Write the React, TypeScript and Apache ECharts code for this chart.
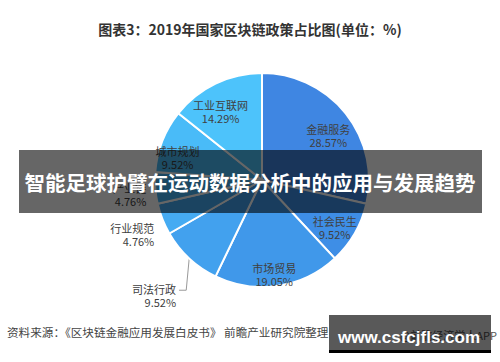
import React, { useEffect, useRef } from "react";
import * as echarts from "echarts";

const categories = ["金融服务", "社会民生", "市场贸易", "司法行政", "行业规范", "产业链", "城市规划", "工业互联网"];
const values = [28.57, 9.52, 19.05, 9.52, 4.76, 4.76, 9.52, 14.29];
const colors = ["#3f86e2", "#3e8ee6", "#4098ea", "#42a1ee", "#45abf2", "#47b3f5", "#49bbf8", "#4dc3fb"];
const outsideLabels = ["司法行政", "行业规范", "产业链"];

const titleText = "图表3：2019年国家区块链政策占比图(单位：%)";
const bannerText = "智能足球护臂在运动数据分析中的应用与发展趋势";
const sourceText = "资料来源：《区块链金融应用发展白皮书》 前瞻产业研究院整理";
const siteText = "www.csfcjfls.com";
const appText = "@前瞻经济学人APP";

const FONT = '"Noto Sans CJK SC", "Noto Sans", sans-serif';

export default function App() {
  const ref = useRef<HTMLDivElement>(null);
  useEffect(() => {
    document.body.style.margin = "0";
    const chart = echarts.init(ref.current!, null, { renderer: "svg" });
    const fmt = (p: any) => `${p.name}\n${Number(p.value).toFixed(2)}%`;
    const center = [262, 180];
    // fine label nudges (dx, dy) per category, to follow the reference placement
    const nudge: Record<string, [number, number]> = {
      金融服务: [-3, 11],
      社会民生: [-4, 3],
      市场贸易: [-1, 7],
      司法行政: [6, 28],
      行业规范: [14, 11],
      产业链: [14, 6],
      城市规划: [-2, 10],
      工业互联网: [-3, 11],
    };
    const labelLayout = (params: any) => {
      const name = categories[params.dataIndex];
      const n = nudge[name] || [0, 0];
      const out: any = { dx: n[0], dy: n[1] };
      if (params.seriesIndex === 0 && name === "司法行政" && params.labelLinePoints) {
        const start = params.labelLinePoints[0];
        const r = params.labelRect;
        const ly = r.y + n[1] + 8;
        const rightEdge = r.x + r.width + n[0];
        out.labelLinePoints = [
          [start[0], start[1]],
          [start[0] - 3, ly],
          [rightEdge + 3, ly],
        ];
      }
      return out;
    };
    chart.setOption({
      animation: false,
      backgroundColor: "#ffffff",
      series: [
        {
          type: "pie",
          center,
          radius: 107,
          startAngle: 90,
          clockwise: true,
          avoidLabelOverlap: false,
          labelLayout,
          itemStyle: { borderColor: "#ffffff", borderWidth: 2 },
          label: {
            position: "outside",
            formatter: fmt,
            fontSize: 11,
            lineHeight: 13,
            color: "#404040",
            fontFamily: FONT,
          },
          labelLine: { length: 12, length2: 6, lineStyle: { color: "#999999", width: 1 } },
          data: categories.map((c, i) => ({
            name: c,
            value: values[i],
            itemStyle: { color: colors[i] },
            label: { show: outsideLabels.includes(c) },
            labelLine: { show: c === "司法行政" },
          })),
        },
        {
          type: "pie",
          center,
          radius: [64, 107],
          startAngle: 90,
          clockwise: true,
          silent: true,
          labelLayout,
          itemStyle: { color: "transparent", borderWidth: 0 },
          label: {
            position: "inside",
            formatter: fmt,
            fontSize: 11,
            lineHeight: 13,
            color: "#404040",
            fontFamily: FONT,
          },
          labelLine: { show: false },
          data: categories.map((c, i) => ({
            name: c,
            value: values[i],
            label: { show: !outsideLabels.includes(c) },
          })),
        },
      ],
      graphic: [
        {
          type: "text",
          x: 250,
          y: 29,
          style: {
            text: titleText,
            font: `bold 14px ${FONT}`,
            fill: "#333333",
            textAlign: "center",
            textVerticalAlign: "middle",
          },
        },
        {
          type: "rect",
          z: 100,
          shape: { x: 19, y: 150, width: 463, height: 63 },
          style: { fill: "rgba(0,0,0,0.6)" },
        },
        {
          type: "text",
          z: 101,
          x: 250,
          y: 182,
          style: {
            text: bannerText,
            font: `bold 20.5px ${FONT}`,
            fill: "#ffffff",
            textAlign: "center",
            textVerticalAlign: "middle",
          },
        },
        {
          type: "text",
          x: 7,
          y: 332,
          style: {
            text: sourceText,
            font: `11.6px ${FONT}`,
            fill: "#444444",
            textAlign: "left",
            textVerticalAlign: "middle",
          },
        },
        {
          type: "text",
          z: 100,
          x: 497,
          y: 335,
          style: {
            text: appText,
            font: `11px ${FONT}`,
            fill: "#555555",
            textAlign: "right",
            textVerticalAlign: "middle",
          },
        },
        {
          type: "rect",
          z: 101,
          shape: { x: 329, y: 315, width: 162, height: 35 },
          style: { fill: "rgba(0,0,0,0.65)" },
        },
        {
          type: "rect",
          z: 101,
          shape: { x: 329, y: 350, width: 162, height: 3 },
          style: { fill: "#000000" },
        },
        {
          type: "text",
          z: 102,
          x: 409,
          y: 337,
          style: {
            text: siteText,
            font: `bold 17px "Liberation Sans", Arial, sans-serif`,
            fill: "#ffffff",
            textAlign: "center",
            textVerticalAlign: "middle",
          },
        },
      ],
    });
    return () => chart.dispose();
  }, []);
  return <div ref={ref} style={{ width: 500, height: 362 }} />;
}
